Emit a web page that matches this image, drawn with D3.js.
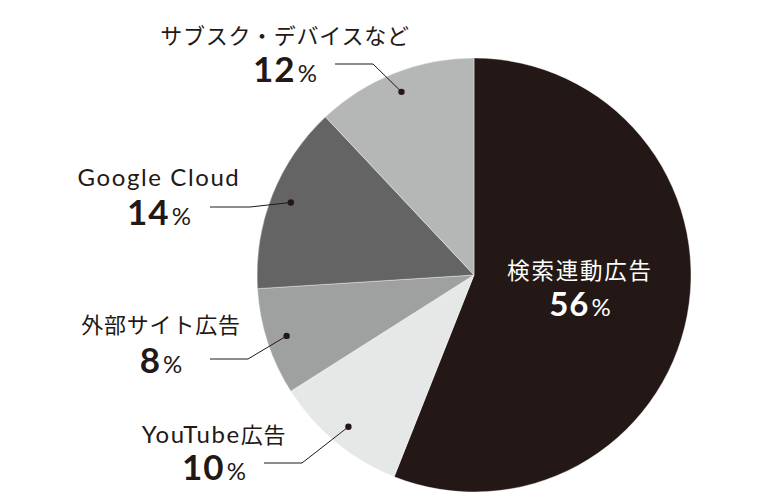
<!DOCTYPE html>
<html><head><meta charset="utf-8">
<script src="https://cdn.jsdelivr.net/npm/d3@7/dist/d3.min.js"></script>
<style>
body{margin:0;background:#fff;}
svg{display:block;}
</style></head>
<body>
<svg id="chart" width="759" height="503"></svg>
<script>
const categories = ["検索連動広告", "YouTube広告", "外部サイト広告", "Google Cloud", "サブスク・デバイスなど"];
const values = [56, 10, 8, 14, 12];
const colors = ["#231815", "#e6e7e7", "#9fa0a0", "#646464", "#b5b6b6"];

// layout for labels (name center, baselines, leader elbow)
const layout = [
  {inside: true, cx: 580, nameY: 279, pctY: 316, pctSize: 33},
  {cx: 214, nameY: 443, pctY: 480, lineX0: 264, lineX1: 302, lineY: 463},
  {cx: 161, nameY: 333, pctY: 373, lineX0: 210, lineX1: 248, lineY: 359},
  {cx: 159, nameY: 186, pctY: 225, lineX0: 210, lineX1: 250, lineY: 207},
  {cx: 285, nameY: 44, pctY: 82, lineX0: 335, lineX1: 373, lineY: 64}
];

const W = 759, H = 503;
const cx = 474, cy = 275, R = 217, dotR = 197;
const ink = "#231815";
const svg = d3.select("#chart");
const g = svg.append("g").attr("transform", `translate(${cx},${cy})`);

const data = categories.map((c, i) => ({name: c, value: values[i], color: colors[i], lay: layout[i]}));
const pie = d3.pie().value(d => d.value).sort(null);
const arcs = pie(data);
const arc = d3.arc().innerRadius(0).outerRadius(R);

g.selectAll("path.slice").data(arcs).join("path")
  .attr("class", "slice")
  .attr("d", arc)
  .attr("fill", d => d.data.color)
  .attr("stroke", "#ffffff").attr("stroke-width", 0.4);

const dotArc = d3.arc().innerRadius(dotR).outerRadius(dotR);

arcs.forEach(a => {
  const L = a.data.lay;
  const textFill = L.inside ? "#ffffff" : ink;
  if (!L.inside) {
    const [dx, dy] = dotArc.centroid(a);
    const px = cx + dx, py = cy + dy;
    svg.append("path")
      .attr("d", `M${L.lineX0},${L.lineY}L${L.lineX1},${L.lineY}L${px},${py}`)
      .attr("fill", "none").attr("stroke", ink).attr("stroke-width", 1);
    svg.append("circle").attr("cx", px).attr("cy", py).attr("r", 3.2).attr("fill", ink);
  }
  const nameText = svg.append("text")
    .attr("x", L.cx).attr("y", L.nameY)
    .attr("text-anchor", "middle")
    .attr("fill", textFill);
  const runs = a.data.name.match(/[A-Za-z ]+|[^A-Za-z ]+/g);
  runs.forEach(r => {
    const latin = /^[A-Za-z ]+$/.test(r);
    nameText.append("tspan")
      .attr("font-family", latin ? "Lato, sans-serif" : "'Noto Sans CJK JP', sans-serif")
      .attr("font-size", latin ? 24 : (L.inside ? 22.5 : 22))
      .attr("letter-spacing", latin ? 1.6 : (L.inside ? 1.8 : 0.8))
      .text(r);
  });
  const t = svg.append("text")
    .attr("x", L.cx).attr("y", L.pctY)
    .attr("text-anchor", "middle")
    .attr("fill", textFill);
  t.append("tspan")
    .attr("font-family", "Lato, 'Noto Sans', sans-serif")
    .attr("font-weight", 700)
    .attr("font-size", L.pctSize || 35)
    .attr("letter-spacing", 1)
    .text(a.data.value);
  t.append("tspan")
    .attr("font-family", "Lato, 'Noto Sans', sans-serif")
    .attr("font-weight", 400)
    .attr("font-size", 24)
    .attr("dx", 2)
    .text("%");
});
</script>
</body></html>
